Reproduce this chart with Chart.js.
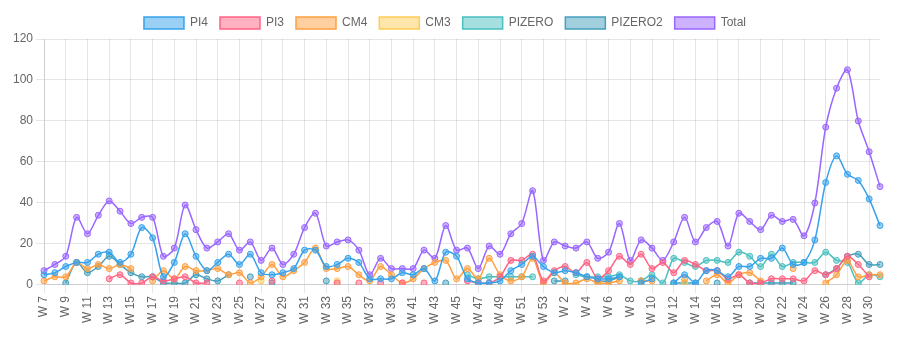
<!DOCTYPE html>
<html>
<head>
<meta charset="utf-8">
<script src="https://cdn.jsdelivr.net/npm/chart.js@4"></script>
<style>
  body { margin: 0; background: #fff; }
  #wrap { width: 902px; height: 340px; }
</style>
</head>
<body>
<div id="wrap"><canvas id="chart"></canvas></div>
<script>
const N = null;

const weeks = [];
for (let w = 7; w <= 53; w++) weeks.push('W ' + w);
for (let w = 1; w <= 31; w++) weeks.push('W ' + w);

const pi4 = [5,6,9,11,11,15,16,11,15,28, 23,4,11,25,14,7,11,15,10,15,
  6,5,6,8,17,17,9,10,13,11, 3,3,3,6,5,8,2,16,14,3,
  1,1,2,7,10,14,9,6,7,6, 4,3,3,4,N,1,3,N,1,5,
  1,7,7,4,9,9,13,13,18,10, 11,22,50,63,54,51,42,29];

const pi3 = [N,N,N,N,N,N,3,5,1,1, 4,2,3,4,1,1,N,N,1,N,
  N,2,N,N,N,N,N,1,N,1, N,1,N,1,N,1,N,N,N,2,
  1,1,4,12,12,15,2,7,9,6, 11,3,7,14,10,15,8,11,6,12,
  10,7,7,3,5,1,1,3,3,3, 2,7,5,8,14,10,4,N];

const cm4 = [2,4,4,11,8,10,8,10,8,N, 2,7,3,9,7,7,8,5,6,1,
  4,10,4,7,11,18,8,8,9,5, 2,9,5,1,3,8,11,12,3,8,
  3,13,5,2,4,13,1,6,1,1, 3,1,1,2,N,2,2,N,N,3,
  N,2,5,1,5,6,2,N,N,8, N,N,1,5,12,4,5,5];

const cm3 = [N,N,N,N,N,N,N,N,N,N, N,N,N,N,N,N,N,N,N,N,
  2,N,N,N,N,N,N,2,N,N, N,N,N,N,N,N,N,N,N,N,
  N,N,N,N,N,N,N,N,N,N, N,N,N,N,N,N,N,N,N,1,
  N,N,N,N,N,N,N,N,N,N, N,N,N,N,N,N,N,N];

const pizero = [N,N,N,N,N,N,N,N,N,N, N,N,N,N,N,N,N,N,N,N,
  N,N,N,N,N,N,N,N,N,N, N,N,N,N,N,N,N,N,N,5,
  3,4,4,4,4,4,N,N,N,5, 4,4,4,5,2,2,5,1,13,11,
  9,12,12,11,16,14,9,15,9,11, 11,11,16,12,11,1,5,4];

const pizero2 = [N,N,1,11,6,9,14,10,6,4, 4,1,1,1,5,3,2,5,N,4,
  N,1,N,N,N,N,2,N,N,N, N,N,N,N,N,N,N,1,N,N,
  N,N,N,N,N,N,N,2,2,N, N,2,2,4,N,2,N,N,1,1,
  1,N,1,N,N,1,1,1,1,1, N,N,5,8,14,15,10,10];

const total = [7,10,14,33,25,34,41,36,30,33, 33,14,18,39,27,18,21,25,17,21,
  12,18,10,15,28,35,19,21,22,17, 5,13,8,8,8,17,13,29,17,18,
  8,19,15,25,30,46,12,21,19,18, 21,13,16,30,12,22,18,12,21,33,
  21,28,31,19,35,31,27,34,31,32, 24,40,77,96,105,80,65,48];

function series(label, data, rgb) {
  return {
    label: label,
    data: data,
    borderColor: `rgb(${rgb})`,
    backgroundColor: `rgba(${rgb}, 0.5)`,
    borderWidth: 1.5,
    pointRadius: 3,
    pointBorderWidth: 1,
    tension: 0.3,
    spanGaps: false,
  };
}

new Chart(document.getElementById('chart'), {
  type: 'line',
  data: {
    labels: weeks,
    datasets: [
      series('PI4', pi4, '54, 162, 235'),
      series('PI3', pi3, '255, 99, 132'),
      series('CM4', cm4, '255, 159, 64'),
      series('CM3', cm3, '255, 205, 86'),
      series('PIZERO', pizero, '75, 192, 192'),
      series('PIZERO2', pizero2, '70, 160, 190'),
      series('Total', total, '153, 102, 255'),
    ]
  },
  options: {
    responsive: true,
    maintainAspectRatio: false,
    animation: false,
    layout: {
      padding: { left: 10, right: 22, top: 5, bottom: 13 }
    },
    plugins: {
      legend: { position: 'top', labels: { padding: 12 } }
    },
    scales: {
      x: {
        ticks: { minRotation: 90, maxRotation: 90, autoSkip: true }
      },
      y: {
        min: 0,
        max: 120,
        ticks: { stepSize: 20 }
      }
    }
  }
});
</script>
</body>
</html>
